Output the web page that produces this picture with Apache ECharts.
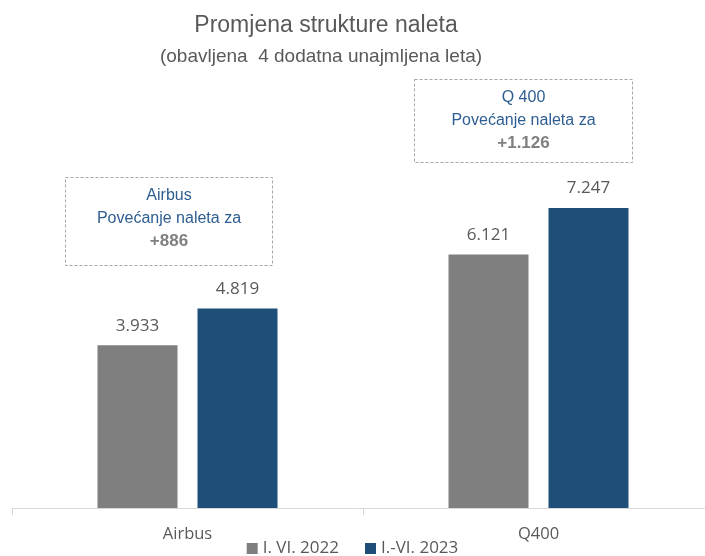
<!DOCTYPE html>
<html>
<head>
<meta charset="utf-8">
<script src="https://cdn.jsdelivr.net/npm/echarts@6/dist/echarts.min.js"></script>
<style>
  html, body { margin: 0; padding: 0; background: #fff; }
  #chart { width: 705px; height: 556px; }
</style>
</head>
<body>
<div id="chart"></div>
<script>
let chart = echarts.init(document.querySelector("#chart"))

// podaci
const categories = ['Airbus', 'Q400']
const seriesNames = ['I. VI. 2022', 'I.-VI. 2023']
const flights2022 = [3933, 6121]
const flights2023 = [4819, 7247]
const boxTitles = ['Airbus', 'Q 400']
const increases = ['+886', '+1.126']

const fmt = (v) => String(v).replace(/\B(?=(\d{3})+(?!\d))/g, '.')

function box(x, y, w, h, name, inc) {
    return {
        type: 'group',
        left: x,
        top: y,
        children: [
            {
                type: 'rect',
                shape: { x: 0, y: 0, width: w, height: h },
                style: { fill: '#fff', stroke: '#a6a6a6', lineWidth: 1, lineDash: [3, 2] }
            },
            {
                type: 'text',
                x: w / 2, y: 18,
                style: { text: name, fill: '#2e5e91', font: '16px "Liberation Sans", Arial', textAlign: 'center', textVerticalAlign: 'middle' }
            },
            {
                type: 'text',
                x: w / 2, y: 41,
                style: { text: 'Povećanje naleta za', fill: '#2e5e91', font: '16px "Liberation Sans", Arial', textAlign: 'center', textVerticalAlign: 'middle' }
            },
            {
                type: 'text',
                x: w / 2, y: 64,
                style: { text: inc, fill: '#7f7f7f', font: 'bold 17px "Liberation Sans", Arial', textAlign: 'center', textVerticalAlign: 'middle' }
            }
        ]
    }
}

let option = {
    animation: false,
    title: [
        {
            text: 'Promjena strukture naleta',
            left: 321,
            top: 9,
            textAlign: 'center',
            textStyle: { fontFamily: '"Liberation Sans", Arial', fontSize: 23, fontWeight: 'normal', color: '#595959' }
        },
        {
            text: '(obavljena  4 dodatna unajmljena leta)',
            left: 316,
            top: 42,
            textAlign: 'center',
            textStyle: { fontFamily: '"Liberation Sans", Arial', fontSize: 19, fontWeight: 'normal', color: '#595959' }
        }
    ],
    legend: {
        bottom: -6,
        left: 'center',
        itemWidth: 11,
        itemHeight: 11,
        itemGap: 26,
        icon: 'rect',
        textStyle: { fontFamily: '"Open Sans", sans-serif', fontSize: 17, color: '#595959' },
        data: seriesNames
    },
    grid: { left: 12, right: -9, top: 94, bottom: 48, containLabel: false, outerBoundsMode: 'none' },
    xAxis: {
        type: 'category',
        data: categories,
        axisLine: { lineStyle: { color: '#d9d9d9' } },
        axisTick: { show: true, length: 7, lineStyle: { color: '#d9d9d9' } },
        axisLabel: { fontFamily: '"Open Sans", sans-serif', fontSize: 16.5, color: '#595959', margin: 18 }
    },
    yAxis: {
        type: 'value',
        min: 0,
        max: 10000,
        show: false,
        splitLine: { show: false }
    },
    graphic: [
        box(65, 177, 207, 88, boxTitles[0], increases[0]),
        box(414, 79, 218, 83, boxTitles[1], increases[1])
    ],
    series: [
        {
            name: seriesNames[0],
            type: 'bar',
            data: flights2022,
            barWidth: 80,
            barGap: '25%',
            itemStyle: { color: '#7f7f7f' },
            label: {
                show: true, position: 'top', distance: 11,
                formatter: (p) => fmt(p.value),
                fontFamily: '"Open Sans", sans-serif', fontSize: 17, color: '#595959'
            }
        },
        {
            name: seriesNames[1],
            type: 'bar',
            data: flights2023,
            barWidth: 80,
            itemStyle: { color: '#1f4e79' },
            label: {
                show: true, position: 'top', distance: 11,
                formatter: (p) => fmt(p.value),
                fontFamily: '"Open Sans", sans-serif', fontSize: 17, color: '#595959'
            }
        }
    ]
}
chart.setOption(option)
</script>
</body>
</html>
